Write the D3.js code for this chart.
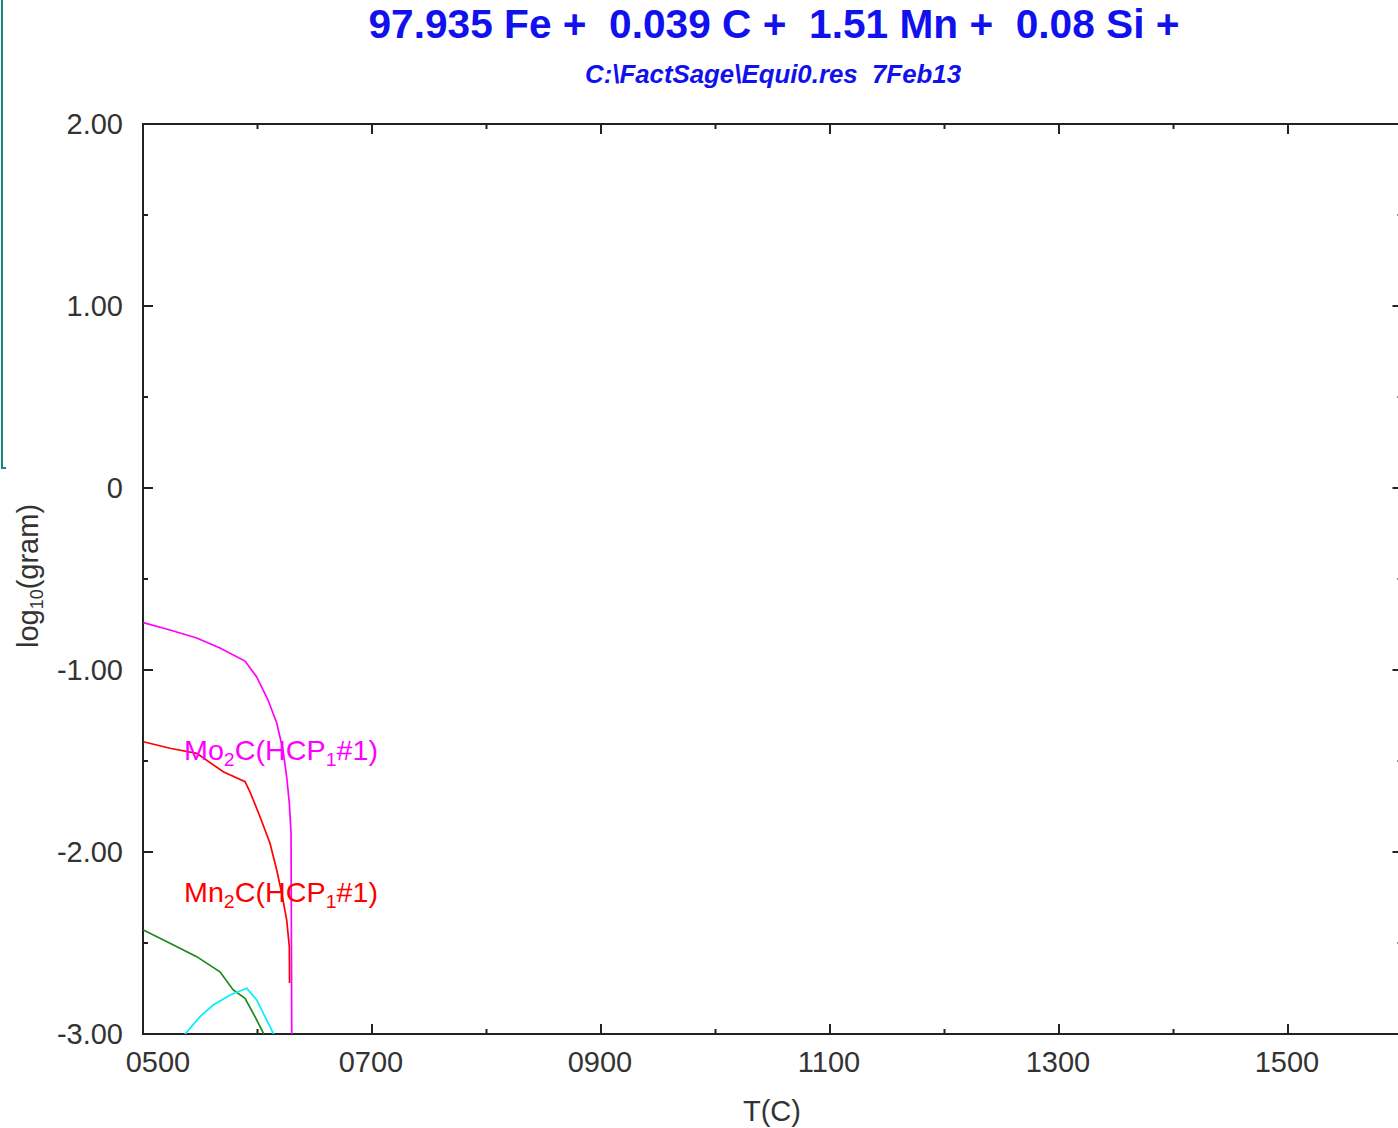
<!DOCTYPE html>
<html>
<head>
<meta charset="utf-8">
<script src="https://cdn.jsdelivr.net/npm/d3@7"></script>
<style>
  body { margin:0; background:#fff; }
  text { font-family: "Liberation Sans", Arial, sans-serif; }
</style>
</head>
<body>
<div id="chart"></div>
<script>
// temperatures (C) and log10(gram)
var mo2cT   = [500.3, 523.6, 546.9, 567.2, 589.1, 599.3, 609.2, 616.8, 622.3, 625.5, 627.8, 629.3, 629.9, 630.0];
var mo2cVal = [-0.740, -0.780, -0.824, -0.879, -0.951, -1.038, -1.165, -1.291, -1.440, -1.588, -1.731, -1.896, -3.00, -3.20];

var mn2cT   = [500.3, 523.6, 546.9, 570.1, 589.1, 593.4, 602.2, 610.9, 616.8, 621.1, 625.5, 627.8, 628.0];
var mn2cVal = [-1.394, -1.430, -1.458, -1.559, -1.614, -1.669, -1.806, -1.952, -2.099, -2.225, -2.374, -2.520, -2.720];

var greenT   = [500.3, 523.6, 546.9, 567.2, 578.8, 589.1, 597.8, 605.1, 607.5];
var greenVal = [-2.429, -2.502, -2.575, -2.658, -2.758, -2.804, -2.905, -2.995, -3.06];

var cyanT   = [530.0, 549.8, 561.4, 576.0, 590.6, 599.3, 613.8, 615.5];
var cyanVal = [-3.05, -2.905, -2.841, -2.786, -2.749, -2.813, -2.996, -3.05];

var xMajor = [500, 700, 900, 1100, 1300, 1500];
var xMajorLabels = ["0500", "0700", "0900", "1100", "1300", "1500"];
var xMinor = [600, 800, 1000, 1200, 1400, 1600];
var yMajor = [2, 1, 0, -1, -2, -3];
var yMajorLabels = ["2.00", "1.00", "0", "-1.00", "-2.00", "-3.00"];
var yMinor = [1.5, 0.5, -0.5, -1.5, -2.5];

var series = [
  { name: "Mo2C", T: mo2cT, v: mo2cVal, color: "#ff00ff" },
  { name: "Mn2C", T: mn2cT, v: mn2cVal, color: "#ff0000" },
  { name: "other1", T: greenT, v: greenVal, color: "#1a8a1a" },
  { name: "other2", T: cyanT, v: cyanVal, color: "#00f0ff" }
];

// curve labels, anchored in data units
var curveLabels = [
  { main: "Mo", sub1: "2", mid: "C(HCP", sub2: "1", tail: "#1)", T: 535.8, v: -1.495, color: "#ff00ff" },
  { main: "Mn", sub1: "2", mid: "C(HCP", sub2: "1", tail: "#1)", T: 535.8, v: -2.275, color: "#ff0000" }
];

var W = 1398, H = 1128;
var margin = { top:124, left:143, bottom:94 };
var plotW = 1259.5;
var plotH = H - margin.top - margin.bottom;

var svg = d3.select("#chart")
            .append("svg")
            .attr("width", W)
            .attr("height", H)
            .style("display", "block");

// window frame remnant on the far left
svg.append("path")
   .attr("d", "M2,0 V468 H6")
   .attr("fill", "none")
   .attr("stroke", "#178a80")
   .attr("stroke-width", 2);

var x = d3.scaleLinear().domain([500, 1600]).range([margin.left, margin.left + plotW]);
var y = d3.scaleLinear().domain([-3, 2]).range([margin.top + plotH, margin.top]);

svg.append("defs").append("clipPath")
   .attr("id", "plotclip")
   .append("rect")
   .attr("x", x(500)).attr("y", y(2))
   .attr("width", plotW).attr("height", plotH);

var axisColor = "#222";

// frame
svg.append("rect")
   .attr("x", x(500)).attr("y", y(2))
   .attr("width", plotW).attr("height", plotH)
   .attr("fill", "none")
   .attr("stroke", axisColor)
   .attr("stroke-width", 2);

// ticks: bottom / top
function xTicks(vals, len) {
  vals.forEach(function (t) {
    svg.append("line").attr("x1", x(t)).attr("x2", x(t))
       .attr("y1", y(-3)).attr("y2", y(-3) - len)
       .attr("stroke", axisColor).attr("stroke-width", 2);
    svg.append("line").attr("x1", x(t)).attr("x2", x(t))
       .attr("y1", y(2)).attr("y2", y(2) + len)
       .attr("stroke", axisColor).attr("stroke-width", 2);
  });
}
// ticks: left / right
function yTicks(vals, len) {
  vals.forEach(function (v) {
    svg.append("line").attr("x1", x(500)).attr("x2", x(500) + len)
       .attr("y1", y(v)).attr("y2", y(v))
       .attr("stroke", axisColor).attr("stroke-width", 2);
    svg.append("line").attr("x1", x(1600)).attr("x2", x(1600) - len)
       .attr("y1", y(v)).attr("y2", y(v))
       .attr("stroke", axisColor).attr("stroke-width", 2);
  });
}
xTicks(xMajor, 10);
xTicks(xMinor, 5);
yTicks(yMajor, 10);
yTicks(yMinor, 5);

// tick labels
var labelColor = "#333";
svg.selectAll(".xlab")
   .data(xMajor)
   .enter().append("text")
   .attr("class", "xlab")
   .attr("x", function (d, i) { return i == 0 ? x(d) + 15 : x(d) - 1; })
   .attr("y", y(-3) + 38)
   .attr("text-anchor", "middle")
   .attr("font-size", 29)
   .attr("fill", labelColor)
   .text(function (d, i) { return xMajorLabels[i]; });

svg.selectAll(".ylab")
   .data(yMajor)
   .enter().append("text")
   .attr("class", "ylab")
   .attr("x", x(500) - 20)
   .attr("y", function (d) { return y(d) + 10; })
   .attr("text-anchor", "end")
   .attr("font-size", 29)
   .attr("fill", labelColor)
   .text(function (d, i) { return yMajorLabels[i]; });

// axis titles
svg.append("text")
   .attr("x", 772).attr("y", 1121)
   .attr("text-anchor", "middle")
   .attr("font-size", 29)
   .attr("fill", labelColor)
   .text("T(C)");

var ytitle = svg.append("text")
   .attr("transform", "translate(38,576) rotate(-90)")
   .attr("text-anchor", "middle")
   .attr("font-size", 29)
   .attr("fill", labelColor);
ytitle.append("tspan").text("log");
ytitle.append("tspan").attr("font-size", 18).attr("dy", 5).text("10");
ytitle.append("tspan").attr("dy", -5).text("(gram)");

// titles
svg.append("text")
   .attr("x", 774).attr("y", 38)
   .attr("text-anchor", "middle")
   .attr("font-size", 40)
   .attr("font-weight", "bold")
   .attr("fill", "#1111ee")
   .attr("textLength", 811)
   .attr("lengthAdjust", "spacingAndGlyphs")
   .attr("xml:space", "preserve")
   .text("97.935 Fe +  0.039 C +  1.51 Mn +  0.08 Si +");

svg.append("text")
   .attr("x", 773).attr("y", 83)
   .attr("text-anchor", "middle")
   .attr("font-size", 26)
   .attr("font-weight", "bold")
   .attr("font-style", "italic")
   .attr("fill", "#1111ee")
   .attr("textLength", 376)
   .attr("lengthAdjust", "spacingAndGlyphs")
   .attr("xml:space", "preserve")
   .text("C:\\FactSage\\Equi0.res  7Feb13");

// curves
var line = d3.line()
   .x(function (d) { return x(d[0]); })
   .y(function (d) { return y(d[1]); });

svg.append("g")
   .attr("clip-path", "url(#plotclip)")
   .selectAll(".curve")
   .data(series)
   .enter().append("path")
   .attr("class", "curve")
   .attr("d", function (s) { return line(d3.zip(s.T, s.v)); })
   .attr("fill", "none")
   .attr("stroke", function (s) { return s.color; })
   .attr("stroke-width", 1.7);

// curve labels
curveLabels.forEach(function (l) {
  var t = svg.append("text")
     .attr("x", x(l.T)).attr("y", y(l.v))
     .attr("font-size", 28)
     .attr("fill", l.color)
     .attr("textLength", 194)
     .attr("lengthAdjust", "spacingAndGlyphs");
  t.append("tspan").text(l.main);
  t.append("tspan").attr("font-size", 19).attr("dy", 6).text(l.sub1);
  t.append("tspan").attr("dy", -6).text(l.mid);
  t.append("tspan").attr("font-size", 19).attr("dy", 6).text(l.sub2);
  t.append("tspan").attr("dy", -6).text(l.tail);
});
</script>
</body>
</html>
